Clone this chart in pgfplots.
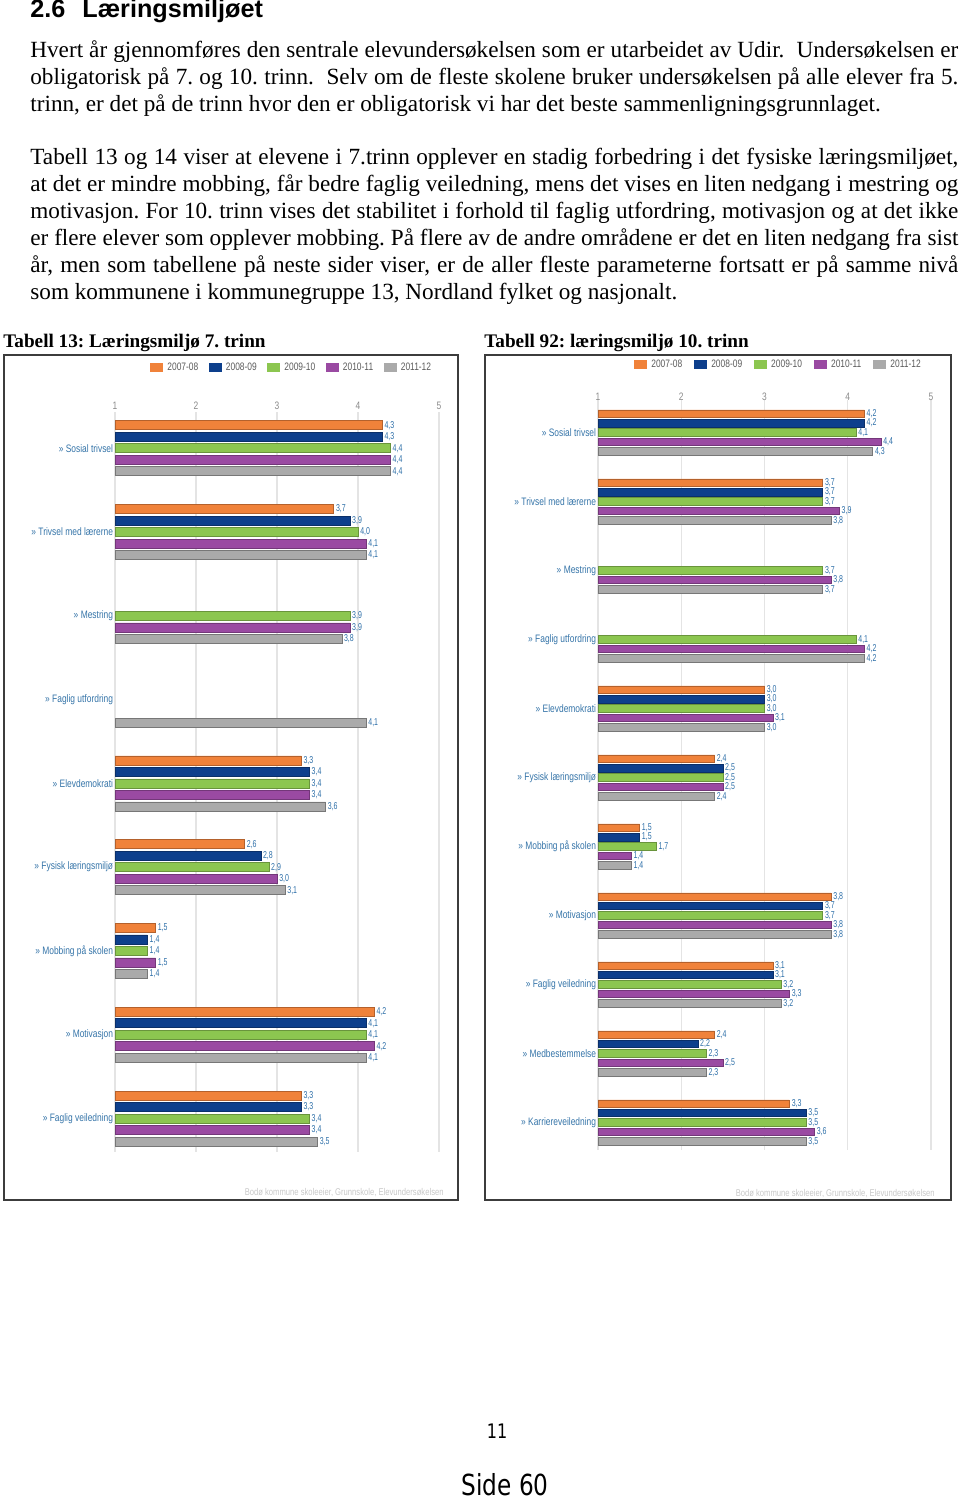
\documentclass[border=0pt]{standalone}
\usepackage{fontspec}
\usepackage{pgfplots}
\pgfplotsset{compat=1.18}
\setmainfont{Liberation Serif}
\newfontfamily\headfont{Liberation Sans}
\newfontfamily\condfont[FakeStretch=0.78]{Liberation Sans}
\newfontfamily\valfontfam[FakeStretch=0.7]{Liberation Sans}
\newfontfamily\pagefont[FakeStretch=0.8]{DejaVu Sans}
\definecolor{c1}{HTML}{F0823A}
\definecolor{c2}{HTML}{0D3F8C}
\definecolor{c3}{HTML}{8CC650}
\definecolor{c4}{HTML}{9A4AA2}
\definecolor{c5}{HTML}{AAAAAA}
\definecolor{labc}{HTML}{3574A8}
\definecolor{valc}{HTML}{2E6FA8}
\definecolor{tickc}{HTML}{8A8A8A}
\definecolor{gridc}{HTML}{E4E4E4}
\definecolor{legc}{HTML}{5A5A5A}
\definecolor{framec}{HTML}{3C3C3C}
\newcommand\bodyfont{\fontsize{11.6}{13.5}\selectfont}
\newcommand\catfont{\condfont\fontsize{5.4}{6}\selectfont}
\newcommand\valfont{\valfontfam\fontsize{5}{5.5}\selectfont}
\pgfplotsset{
  chart/.style={
    xbar, scale only axis, xmin=1, xmax=5, xtick={1,2,3,4,5},
    xticklabel pos=upper,
    /pgf/number format/assume math mode=true,
    axis line style={draw=none}, tick style={draw=none},
    xmajorgrids, major grid style={draw=gridc, line width=0.6pt},
    yticklabel style={font=\catfont, text=labc, inner sep=1pt, xshift=4.5pt},
    xticklabel style={font=\catfont, text=tickc},
    nodes near coords={\pgfmathprintnumber[fixed,fixed zerofill,precision=1,use comma,assume math mode=true]{\pgfplotspointmeta}},
    nodes near coords align=horizontal,
    every node near coord/.append style={font=\valfont, text=valc, inner sep=1pt},
    legend columns=5,
    legend image code/.code={\draw[##1, draw=none] (0pt,-2.25pt) rectangle (6.5pt,2.25pt);},
    legend style={draw=none, fill=none, font=\catfont, text=legc, inner sep=0pt,
      cells={anchor=west}},
  },
  s1/.style={fill=c1, draw=c1!75!black, line width=0.3pt},
  s2/.style={fill=c2, draw=c2!75!black, line width=0.3pt},
  s3/.style={fill=c3, draw=c3!75!black, line width=0.3pt},
  s4/.style={fill=c4, draw=c4!75!black, line width=0.3pt},
  s5/.style={fill=c5, draw=c5!70!black, line width=0.3pt},
}
\begin{document}
\frenchspacing
\begin{tikzpicture}[x=0.5pt,y=-0.5pt]
\useasboundingbox (0,0) rectangle (960,1500);
% heading
\node[anchor=base west, inner sep=0pt, font=\headfont\bfseries\fontsize{12.6}{14}\selectfont] at (30,17.5) {2.6};
\node[anchor=base west, inner sep=0pt, font=\headfont\bfseries\fontsize{12.6}{14}\selectfont] at (82,17.5) {Læringsmiljøet};
% body text
\begin{scope}[every node/.style={anchor=base west, inner sep=0pt, font=\bodyfont}]
\node at (30,57) {\hbox to 464pt{Hvert år gjennomføres den sentrale elevundersøkelsen som er utarbeidet av Udir.~ Undersøkelsen er}};
\node at (30,84) {\hbox to 464pt{obligatorisk på 7. og 10. trinn.~ Selv om de fleste skolene bruker undersøkelsen på alle elever fra 5.}};
\node at (30,111) {trinn, er det på de trinn hvor den er obligatorisk vi har det beste sammenligningsgrunnlaget.};
\node at (30,164) {\hbox to 464pt{Tabell 13 og 14 viser at elevene i 7.trinn opplever en stadig forbedring i det fysiske læringsmiljøet,}};
\node at (30,191) {\hbox to 464pt{at det er mindre mobbing, får bedre faglig veiledning, mens det vises en liten nedgang i mestring og}};
\node at (30,218) {\hbox to 464pt{motivasjon. For 10. trinn vises det stabilitet i forhold til faglig utfordring, motivasjon og at det ikke}};
\node at (30,245) {\hbox to 464pt{er flere elever som opplever mobbing. På flere av de andre områdene er det en liten nedgang fra sist}};
\node at (30,272) {\hbox to 464pt{år, men som tabellene på neste sider viser, er de aller fleste parameterne fortsatt er på samme nivå}};
\node at (30,299) {som kommunene i kommunegruppe 13, Nordland fylket og nasjonalt.};
\end{scope}
% chart titles
\node[anchor=base west, inner sep=0pt, font=\bfseries\fontsize{9.6}{11}\selectfont] at (3,347) {Tabell 13: Læringsmiljø 7. trinn};
\node[anchor=base west, inner sep=0pt, font=\bfseries\fontsize{9.6}{11}\selectfont] at (484,347) {Tabell 92: læringsmiljø 10. trinn};
% frames
\draw[framec, line width=0.7pt] (4,355) rectangle (458,1200);
\draw[framec, line width=0.7pt] (485,355) rectangle (951,1200);
% source notes
\node[anchor=base east, inner sep=0pt, text=black!22, font=\condfont\fontsize{4.9}{5}\selectfont] at (444,1195) {Bodø kommune skoleeier, Grunnskole, Elevundersøkelsen};
\node[anchor=base east, inner sep=0pt, text=black!22, font=\condfont\fontsize{4.9}{5}\selectfont] at (935,1196) {Bodø kommune skoleeier, Grunnskole, Elevundersøkelsen};
% page numbers
\node[anchor=base, inner sep=0pt, font=\pagefont\fontsize{10}{12}\selectfont] at (497,1438) {11};
\node[anchor=base, inner sep=0pt, font=\pagefont\fontsize{14.5}{16}\selectfont] at (505,1495) {Side 60};

% left chart: 7. trinn
\begin{axis}[chart, at={(57.5pt,-206pt)}, anchor=north west, width=162pt, height=370pt,
  ymin=-8.40, ymax=0.433, bar width=4.5pt,
  ytick={0,-1,-2,-3,-4,-5,-6,-7,-8},
  yticklabels={» Sosial trivsel, » Trivsel med lærerne, » Mestring, » Faglig utfordring, » Elevdemokrati, » Fysisk læringsmiljø, » Mobbing på skolen, » Motivasjon, » Faglig veiledning},
  xticklabel style={yshift=-2.5pt},
  legend style={at={(0.108,1.0595)}, anchor=west, /tikz/every even column/.append style={column sep=3.3pt}}]
\addplot[s1, bar shift=11.5pt] coordinates {(4.3,0) (3.7,-1) (3.3,-4) (2.6,-5) (1.5,-6) (4.2,-7) (3.3,-8)};
\addplot[s2, bar shift=5.75pt] coordinates {(4.3,0) (3.9,-1) (3.4,-4) (2.8,-5) (1.4,-6) (4.1,-7) (3.3,-8)};
\addplot[s3, bar shift=0pt] coordinates {(4.4,0) (4.0,-1) (3.9,-2) (3.4,-4) (2.9,-5) (1.4,-6) (4.1,-7) (3.4,-8)};
\addplot[s4, bar shift=-5.75pt] coordinates {(4.4,0) (4.1,-1) (3.9,-2) (3.4,-4) (3.0,-5) (1.5,-6) (4.2,-7) (3.4,-8)};
\addplot[s5, bar shift=-11.5pt] coordinates {(4.4,0) (4.1,-1) (3.8,-2) (4.1,-3) (3.6,-4) (3.1,-5) (1.4,-6) (4.1,-7) (3.5,-8)};
\legend{2007-08,2008-09,2009-10,2010-11,2011-12}
\end{axis}

% right chart: 10. trinn
\begin{axis}[chart, at={(299pt,-200pt)}, anchor=north west, width=166.5pt, height=375pt,
  ymin=-10.40, ymax=0.471, bar width=3.75pt,
  ytick={0,-1,-2,-3,-4,-5,-6,-7,-8,-9,-10},
  yticklabels={» Sosial trivsel, » Trivsel med lærerne, » Mestring, » Faglig utfordring, » Elevdemokrati, » Fysisk læringsmiljø, » Mobbing på skolen, » Motivasjon, » Faglig veiledning, » Medbestemmelse, » Karriereveiledning},
  xticklabel style={yshift=-4pt},
  legend style={at={(0.108,1.0467)}, anchor=west, /tikz/every even column/.append style={column sep=4pt}}]
\addplot[s1, bar shift=9.4pt] coordinates {(4.2,0) (3.7,-1) (3.0,-4) (2.4,-5) (1.5,-6) (3.8,-7) (3.1,-8) (2.4,-9) (3.3,-10)};
\addplot[s2, bar shift=4.7pt] coordinates {(4.2,0) (3.7,-1) (3.0,-4) (2.5,-5) (1.5,-6) (3.7,-7) (3.1,-8) (2.2,-9) (3.5,-10)};
\addplot[s3, bar shift=0pt] coordinates {(4.1,0) (3.7,-1) (3.7,-2) (4.1,-3) (3.0,-4) (2.5,-5) (1.7,-6) (3.7,-7) (3.2,-8) (2.3,-9) (3.5,-10)};
\addplot[s4, bar shift=-4.7pt] coordinates {(4.4,0) (3.9,-1) (3.8,-2) (4.2,-3) (3.1,-4) (2.5,-5) (1.4,-6) (3.8,-7) (3.3,-8) (2.5,-9) (3.6,-10)};
\addplot[s5, bar shift=-9.4pt] coordinates {(4.3,0) (3.8,-1) (3.7,-2) (4.2,-3) (3.0,-4) (2.4,-5) (1.4,-6) (3.8,-7) (3.2,-8) (2.3,-9) (3.5,-10)};
\legend{2007-08,2008-09,2009-10,2010-11,2011-12}
\end{axis}
\end{tikzpicture}
\end{document}
